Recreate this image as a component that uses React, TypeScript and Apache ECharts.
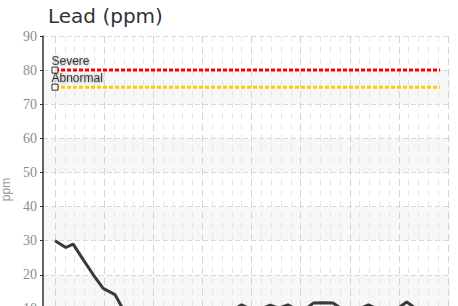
import React, { useEffect, useRef } from "react";
import * as echarts from "echarts";

const titleText = "Lead (ppm)";
const yAxisName = "ppm";
const yTicks = [0, 10, 20, 30, 40, 50, 60, 70, 80, 90];

// sample times (weeks since first sample) and lead values (ppm)
const sampleWeeks = [0, 1.1, 1.85, 2.85, 3.9, 4.9, 6.1, 7.0, 8.0, 9.0, 10.0, 11.0, 12.0, 13.0, 14.0, 15.0, 16.0, 17.0, 18.0, 19.0, 20.0, 21.0, 21.9, 22.8, 23.7, 24.7, 25.5, 26.3, 27.3, 28.3, 29.2, 30.1, 31.0, 31.9, 32.8, 33.8, 34.8, 35.8, 36.8, 37.9, 39.2];
const leadValues = [30, 28, 29, 24.5, 20, 16, 14.2, 9.5, 7.5, 6.5, 7, 6.5, 7.5, 8, 7.5, 8.5, 8.5, 9, 9.5, 11.2, 9.8, 10.0, 11.1, 10.2, 11.2, 9.6, 10.0, 11.7, 11.8, 11.7, 10.0, 9.5, 10.0, 11.2, 10.0, 9.4, 10.0, 12.0, 10.0, 9.5, 10.0];
const weekMin = 0;
const weekMax = 40;
const weekInterval = 5;

const thresholdNames = ["Severe", "Abnormal"];
const thresholdValues = [80, 75];
const thresholdColors = ["#ff0000", "#ffcc00"];

export default function App() {
  const ref = useRef<HTMLDivElement>(null);
  useEffect(() => {
    if (!ref.current) return;
    const chart = echarts.init(ref.current, undefined, { renderer: "svg" });
    const first = sampleWeeks[0];
    const last = sampleWeeks[sampleWeeks.length - 1];
    const series: any[] = [];
    thresholdValues.forEach((v, i) => {
      series.push({
        type: "line",
        xAxisIndex: 0,
        yAxisIndex: 0,
        data: [[first, v], [last, v]],
        symbol: "none",
        lineStyle: { color: thresholdColors[i], width: 3, type: [4, 2] },
        z: 3,
      });
    });
    series.push({
      type: "line",
      xAxisIndex: 0,
      yAxisIndex: 0,
      data: sampleWeeks.map((w, i) => [w, leadValues[i]]),
      symbol: "none",
      lineStyle: { color: "#3a3a3a", width: 3 },
      z: 4,
    });
    series.push({
      type: "scatter",
      xAxisIndex: 0,
      yAxisIndex: 0,
      symbol: "rect",
      symbolSize: 6,
      itemStyle: { color: "#fff", borderColor: "#000", borderWidth: 1 },
      data: thresholdValues.map((v, i) => ({ value: [first, v], name: thresholdNames[i] })),
      label: {
        show: true,
        formatter: (p: any) => p.name,
        position: [0, -12],
        align: "left",
        verticalAlign: "top",
        fontFamily: "Liberation Sans",
        fontSize: 12,
        color: "#111",
        textShadowColor: "rgba(0,0,0,0.5)",
        textShadowBlur: 2,
        textShadowOffsetX: 0.5,
        textShadowOffsetY: 0.5,
      },
      z: 5,
    });

    chart.setOption({
      animation: false,
      title: {
        text: titleText,
        left: 43,
        top: 1,
        textStyle: { fontFamily: "DejaVu Sans", fontSize: 20, fontWeight: "normal", color: "#333" },
      },
      grid: [
        { left: 55, right: 10, top: 36, bottom: 37, containLabel: false, outerBoundsMode: "none" },
        { left: 43, right: 8, top: 36, bottom: 37, containLabel: false, outerBoundsMode: "none" },
      ],
      xAxis: [
        {
          type: "value",
          gridIndex: 0,
          min: weekMin,
          max: weekMax,
          interval: weekInterval,
          z: 2,
          axisLine: { show: false },
          axisTick: { show: false },
          axisLabel: { show: false },
          splitLine: { show: true, lineStyle: { color: "#d4d4d4", type: [7, 4], width: 1 } },
          minorTick: { show: false, splitNumber: 5 },
          minorSplitLine: { show: true, lineStyle: { color: "#e6e6e6", type: [6, 5], width: 1 } },
        },
        { type: "value", gridIndex: 1, min: 0, max: 1, show: false, splitLine: { show: false } },
      ],
      yAxis: [
        {
          type: "value",
          gridIndex: 0,
          min: yTicks[0],
          max: yTicks[yTicks.length - 1],
          interval: 10,
          offset: 12,
          z: 3,
          name: yAxisName,
          nameLocation: "middle",
          nameGap: 27,
          nameTextStyle: { color: "#999", fontFamily: "Liberation Sans", fontSize: 12 },
          axisLine: { show: true, onZero: false, lineStyle: { color: "#333", width: 1.5 } },
          axisTick: { show: true, length: 3, lineStyle: { color: "#333" } },
          axisLabel: { color: "#8c8c8c", fontFamily: "Liberation Sans Narrow", fontSize: 14, margin: 6 },
          splitLine: { show: false },
          splitArea: { show: false },
        },
        {
          type: "value",
          gridIndex: 1,
          min: yTicks[0],
          max: yTicks[yTicks.length - 1],
          interval: 10,
          z: 0,
          axisLine: { show: false },
          axisTick: { show: false },
          axisLabel: { show: false },
          splitLine: { show: true, lineStyle: { color: "#d8d8d8", type: [5, 3] } },
          splitArea: { show: true, areaStyle: { color: ["#ffffff", "#f7f7f7"] } },
        },
      ],
      series,
    });
    return () => chart.dispose();
  }, []);
  return (
    <div
      ref={ref}
      style={{ position: "fixed", left: 0, top: 0, width: 458, height: 380, background: "#fff" }}
    />
  );
}
